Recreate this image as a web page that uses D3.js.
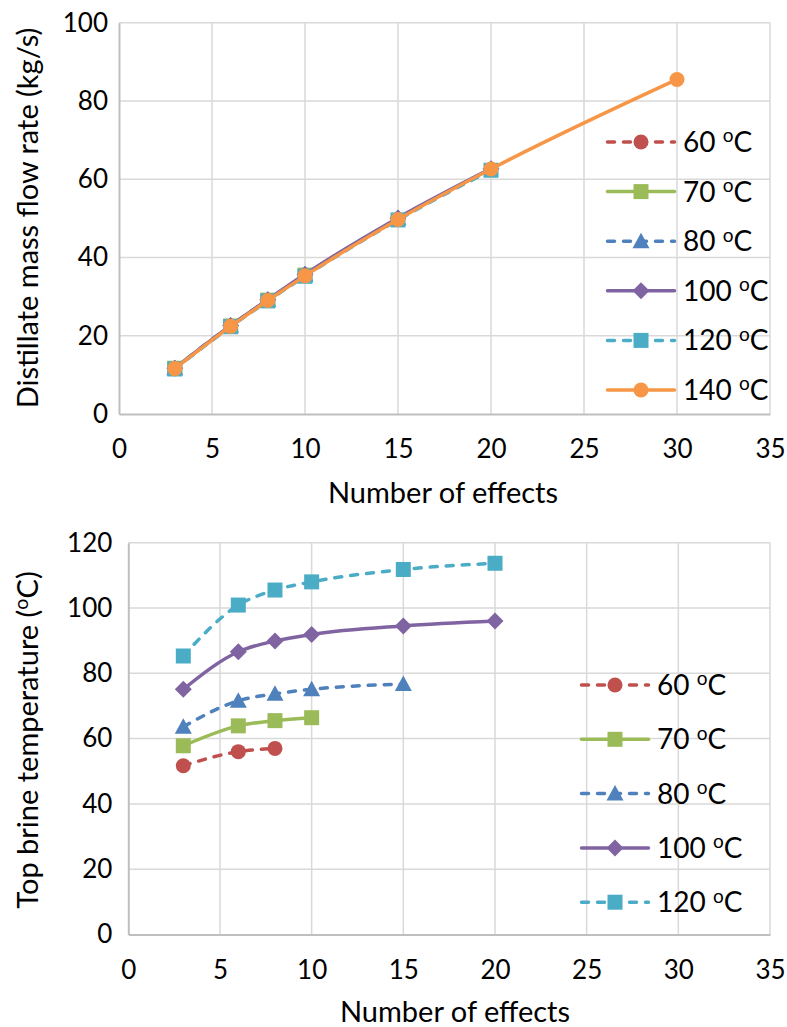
<!DOCTYPE html>
<html><head><meta charset="utf-8">
<script src="https://cdn.jsdelivr.net/npm/d3@7"></script>
<style>
html,body{margin:0;padding:0;background:#fff;}
svg{display:block;font-family:Lato, "Noto Sans", sans-serif;}
</style></head>
<body>
<svg id="chart" width="787" height="1027"></svg>
<script>
// ---------- data ----------
const xTicks = [0, 5, 10, 15, 20, 25, 30, 35];
const topYTicks = [0, 20, 40, 60, 80, 100];
const bottomYTicks = [0, 20, 40, 60, 80, 100, 120];
const topTitleY = "Distillate mass flow rate (kg/s)";
const bottomTitleY = "Top brine temperature (";
const titleX = "Number of effects";

const seriesLabels = ["60", "70", "80", "100", "120", "140"];
const seriesColors = ["#C0504D", "#9BBB59", "#4F81BD", "#8064A2", "#4BACC6", "#F79646"];
const seriesDashed = [true, false, true, false, true, false];
const seriesMarkers = ["circle", "square", "triangle", "diamond", "square", "circle"];

const effects60 = [3, 6, 8];
const effects70 = [3, 6, 8, 10];
const effects80 = [3, 6, 8, 10, 15];
const effects100 = [3, 6, 8, 10, 15, 20];
const effects120 = [3, 6, 8, 10, 15, 20];
const effects140 = [3, 6, 8, 10, 15, 20, 30];

// distillate mass flow rate (kg/s)
const flow60 = [11.7, 22.5, 29.1];
const flow70 = [11.7, 22.5, 29.1, 35.5];
const flow80 = [11.7, 22.6, 29.2, 35.6, 50.0];
const flow100 = [11.7, 22.6, 29.2, 35.7, 50.1, 62.7];
const flow120 = [11.5, 22.3, 28.9, 35.2, 49.6, 62.3];
const flow140 = [11.6, 22.4, 29.0, 35.3, 49.7, 62.6, 85.5];

// top brine temperature (°C)
const tbt60 = [51.7, 56.0, 57.0];
const tbt70 = [57.8, 63.9, 65.5, 66.4];
const tbt80 = [63.6, 71.6, 73.7, 75.1, 76.7];
const tbt100 = [75.1, 86.6, 89.9, 91.9, 94.5, 96.0];
const tbt120 = [85.3, 100.9, 105.5, 108.0, 111.8, 113.7];

const topSeries = [
  {i: 0, x: effects60, y: flow60},
  {i: 1, x: effects70, y: flow70},
  {i: 2, x: effects80, y: flow80},
  {i: 3, x: effects100, y: flow100},
  {i: 4, x: effects120, y: flow120},
  {i: 5, x: effects140, y: flow140}
];
const bottomSeries = [
  {i: 0, x: effects60, y: tbt60},
  {i: 1, x: effects70, y: tbt70},
  {i: 2, x: effects80, y: tbt80},
  {i: 3, x: effects100, y: tbt100},
  {i: 4, x: effects120, y: tbt120}
];

// ---------- drawing ----------
const svg = d3.select("#chart");
const TICK_FS = 26;
const TITLE_FS = 29;
const LEG_FS = 28;
const DASH = "7,9";
const LW = 3.5;

function marker(g, type, cx, cy, color) {
  const s = 15;
  if (type === "circle") {
    g.append("circle").attr("cx", cx).attr("cy", cy).attr("r", s / 2).attr("fill", color);
  } else if (type === "square") {
    g.append("rect").attr("x", cx - s / 2).attr("y", cy - s / 2).attr("width", s).attr("height", s).attr("fill", color);
  } else if (type === "triangle") {
    g.append("path").attr("d", `M${cx},${cy - 8.5}L${cx + 8.5},${cy + 7}L${cx - 8.5},${cy + 7}Z`).attr("fill", color);
  } else if (type === "diamond") {
    g.append("path").attr("d", `M${cx},${cy - 8.5}L${cx + 8.5},${cy}L${cx},${cy + 8.5}L${cx - 8.5},${cy}Z`).attr("fill", color);
  }
}

function degText(sel, prefix, suffix) {
  sel.append("tspan").text(prefix);
  sel.append("tspan").attr("font-size", "0.68em").attr("dy", "-0.5em").text("o");
  sel.append("tspan").attr("dy", "0.34em").text(suffix);
}

function drawChart(cfg) {
  const g = svg.append("g");
  const x = d3.scaleLinear().domain([0, 35]).range([cfg.left, cfg.right]);
  const y = d3.scaleLinear().domain([0, cfg.yMax]).range([cfg.bottom, cfg.top]);

  // gridlines
  g.append("g").selectAll("line.v").data(xTicks.slice(1)).join("line")
    .attr("x1", d => x(d)).attr("x2", d => x(d)).attr("y1", cfg.top).attr("y2", cfg.bottom)
    .attr("stroke", "#D9D9D9").attr("stroke-width", 1.5);
  g.append("g").selectAll("line.h").data(cfg.yTicks.slice(1)).join("line")
    .attr("x1", cfg.left).attr("x2", cfg.right).attr("y1", d => y(d)).attr("y2", d => y(d))
    .attr("stroke", "#D9D9D9").attr("stroke-width", 1.5);

  // axes
  const xAxis = d3.axisBottom(x).tickValues(xTicks).tickSize(0).tickPadding(cfg.xTickPad);
  const xa = g.append("g").attr("transform", `translate(0,${cfg.bottom})`).call(xAxis);
  xa.select(".domain").attr("stroke", "#BFBFBF").attr("stroke-width", 2);
  xa.selectAll("text").attr("font-size", TICK_FS).attr("fill", "#000").attr("font-family", "Lato");

  const yAxis = d3.axisLeft(y).tickValues(cfg.yTicks).tickSize(0).tickPadding(cfg.yTickPad);
  const ya = g.append("g").attr("transform", `translate(${cfg.left},0)`).call(yAxis);
  ya.select(".domain").attr("stroke", "#BFBFBF").attr("stroke-width", 2);
  ya.selectAll("text").attr("font-size", TICK_FS).attr("fill", "#000").attr("font-family", "Lato");

  // axis titles
  g.append("text").attr("x", cfg.xTitleCx).attr("y", cfg.xTitleY)
    .attr("text-anchor", "middle").attr("font-size", TITLE_FS).attr("fill", "#000").text(titleX);
  const yt = g.append("text").attr("transform", `translate(${cfg.yTitleX},${cfg.yTitleCy}) rotate(-90)`)
    .attr("text-anchor", "middle").attr("font-size", TITLE_FS).attr("fill", "#000");
  cfg.yTitle(yt);

  // series
  const line = d3.line().x(d => x(d[0])).y(d => y(d[1])).curve(d3.curveMonotoneX);
  cfg.series.forEach(s => {
    const pts = s.x.map((v, k) => [v, s.y[k]]);
    const col = seriesColors[s.i];
    g.append("path").attr("d", line(pts)).attr("fill", "none").attr("stroke", col)
      .attr("stroke-width", LW).attr("stroke-dasharray", seriesDashed[s.i] ? DASH : null)
      .attr("stroke-linecap", "round").attr("stroke-linejoin", "round");
    const mg = g.append("g");
    pts.forEach(p => marker(mg, seriesMarkers[s.i], x(p[0]), y(p[1]), col));
  });

  // legend
  cfg.series.forEach((s, k) => {
    const ly = cfg.legTop + k * cfg.legStep;
    const col = seriesColors[s.i];
    const lg = g.append("g");
    lg.append("line").attr("x1", cfg.legX + 1.5).attr("x2", cfg.legX + 68.5).attr("y1", ly).attr("y2", ly)
      .attr("stroke", col).attr("stroke-width", LW).attr("stroke-linecap", "round")
      .attr("stroke-dasharray", seriesDashed[s.i] ? DASH : null);
    marker(lg, seriesMarkers[s.i], cfg.legX + 35, ly, col);
    const t = lg.append("text").attr("x", cfg.legX + 77).attr("y", ly + 10)
      .attr("font-size", LEG_FS).attr("fill", "#000");
    degText(t, seriesLabels[s.i] + " ", "C");
  });
}

drawChart({
  left: 119, right: 770, top: 22.7, bottom: 414, yMax: 100, yTicks: topYTicks,
  xTickPad: 26, yTickPad: 11, xTitleCx: 443, xTitleY: 503, yTitleX: 38, yTitleCy: 218,
  yTitle: t => t.text(topTitleY),
  series: topSeries, legX: 606, legTop: 142, legStep: 49.6
});

drawChart({
  left: 128.3, right: 770, top: 542.7, bottom: 934.5, yMax: 120, yTicks: bottomYTicks,
  xTickPad: 26, yTickPad: 16, xTitleCx: 455, xTitleY: 1022, yTitleX: 38, yTitleCy: 740,
  yTitle: t => degText(t, bottomTitleY, "C)"),
  series: bottomSeries, legX: 580, legTop: 685, legStep: 54.3
});
</script>
</body></html>
